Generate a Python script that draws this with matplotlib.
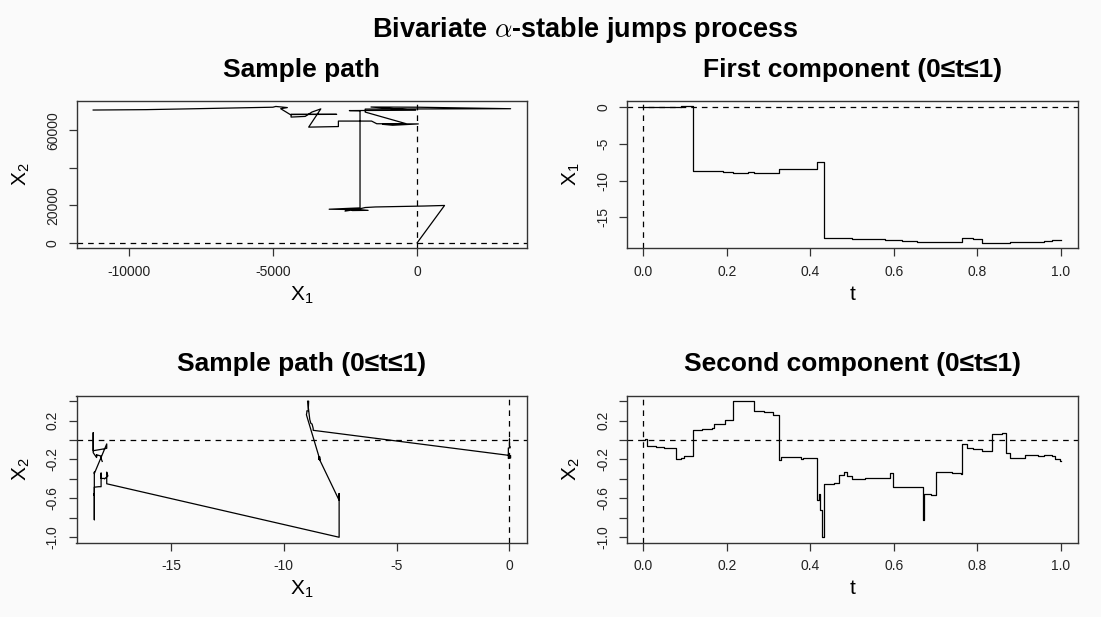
import matplotlib
matplotlib.use("Agg")
import matplotlib.pyplot as plt

plt.rcParams['font.family'] = ['Liberation Sans', 'DejaVu Sans']
plt.rcParams['mathtext.fontset'] = 'custom'
plt.rcParams['mathtext.rm'] = 'Liberation Sans'
plt.rcParams['mathtext.it'] = 'Liberation Sans:italic'
plt.rcParams['axes.unicode_minus'] = False

# long sample path (top left)
path_x1 = [0, 950, 250, -1450, -1800, -2250, -1700, -2400, -2500, -2150, -3050, -2300, -1980,
           -1980, -2350, -50, -1600, 0, 3240, -1800, -1800, -400, -1200, -850, 40, -1400,
           -1580, -2730, -2730, -3760, -3340, -3650, -3880, -4370, -4370, -2790, -4400,
           -4730, -4500, -4900, -5000, -6000, -7000, -8000, -9400, -11230]
path_x2 = [0, 19900, 19600, 19100, 18800, 17200, 17300, 18200, 16900, 17700, 17900, 18400, 18600,
           70300, 70400, 70600, 72300, 72200, 71400, 71200, 69600, 63500, 63100, 62600, 63300, 63400,
           64820, 64820, 61900, 61600, 71300, 69600, 67300, 66950, 68400, 68400, 68300,
           71400, 72000, 72600, 72200, 71900, 71600, 71300, 70900, 70700]

# process on 0 <= t <= 1 (values hold until the next time)
t_vals = [0.000, 0.005, 0.008, 0.030, 0.050, 0.060, 0.077, 0.090, 0.097, 0.118,
          0.140, 0.165, 0.168, 0.190, 0.196, 0.214, 0.250, 0.266, 0.280, 0.290,
          0.310, 0.326, 0.330, 0.360, 0.378, 0.382, 0.417, 0.420, 0.424, 0.427,
          0.433, 0.456, 0.468, 0.480, 0.488, 0.500, 0.530, 0.580, 0.590, 0.597,
          0.620, 0.655, 0.671, 0.673, 0.690, 0.702, 0.740, 0.760, 0.764, 0.775,
          0.790, 0.812, 0.836, 0.860, 0.869, 0.878, 0.915, 0.945, 0.960, 0.980,
          0.985, 0.998, 1.000]
x1_vals = [0.00, 0.00, 0.00, 0.03, 0.03, -0.05, -0.05, 0.05, 0.05, -8.70,
           -8.70, -8.70, -8.75, -8.80, -8.85, -8.95, -8.90, -8.92, -8.98, -8.98,
           -9.00, -8.40, -8.40, -8.45, -8.45, -8.45, -7.55, -7.55, -7.55, -7.55,
           -17.85, -17.85, -17.85, -17.85, -17.80, -17.95, -17.95, -18.10, -18.10, -18.10,
           -18.20, -18.40, -18.40, -18.40, -18.40, -18.40, -18.40, -18.40, -17.85, -17.85,
           -17.95, -18.45, -18.45, -18.45, -18.45, -18.30, -18.30, -18.30, -18.25, -18.10,
           -18.10, -18.05, -18.05]
x2_vals = [0.000, 0.010, -0.065, -0.068, -0.080, -0.082, -0.190, -0.185, -0.160, 0.100,
           0.110, 0.120, 0.165, 0.170, 0.210, 0.400, 0.400, 0.300, 0.300, 0.285,
           0.260, -0.205, -0.175, -0.175, -0.200, -0.185, -0.620, -0.550, -0.720, -1.000,
           -0.450, -0.440, -0.360, -0.330, -0.370, -0.400, -0.395, -0.395, -0.340, -0.480,
           -0.480, -0.485, -0.820, -0.550, -0.570, -0.330, -0.335, -0.345, -0.040, -0.085,
           -0.090, -0.110, 0.060, 0.075, -0.130, -0.180, -0.150, -0.165, -0.155, -0.165,
           -0.190, -0.220, -0.220]

bg = '#fafafa'
edge = '#333333'
W, H = 1101, 617

fig = plt.figure(figsize=(W / 100, H / 100), dpi=100, facecolor=bg)


def box(x0, y0, x1, y1):
    return [x0 / W, 1 - y1 / H, (x1 - x0) / W, (y1 - y0) / H]


def style(ax, title, xlab, ylab):
    ax.set_facecolor(bg)
    for s in ax.spines.values():
        s.set_color(edge)
        s.set_linewidth(1.0)
    ax.margins(0.04)
    ax.axhline(0, color='black', lw=0.9, ls=(0, (4.5, 4)))
    ax.axvline(0, color='black', lw=0.9, ls=(0, (4.5, 4)))
    ax.tick_params(length=6, width=0.9, color=edge, labelsize=10, labelcolor='#222222', pad=6)
    ax.tick_params(axis='y', labelrotation=90)
    for lab in ax.get_yticklabels():
        lab.set_va('center')
    ax.set_title(title, fontsize=19, fontweight='bold', pad=17.5)
    ax.set_xlabel(xlab, fontsize=15, labelpad=4)
    ax.set_ylabel(ylab, fontsize=15, labelpad=10)


ax1 = fig.add_axes(box(76.5, 101, 527.3, 248.3))
ax1.plot(path_x1, path_x2, color='black', lw=0.9)
ax1.set_xticks([-10000, -5000, 0])
ax1.set_yticks([0, 20000, 40000, 60000])
ax1.set_yticklabels(['0', '20000', '', '60000'])
style(ax1, 'Sample path', 'X$_1$', 'X$_2$')

ax2 = fig.add_axes(box(626.7, 101, 1077.5, 248.3))
ax2.plot(t_vals, x1_vals, color='black', lw=0.9, drawstyle='steps-post')
ax2.set_xticks([0, 0.2, 0.4, 0.6, 0.8, 1.0])
ax2.set_xticklabels(['0.0', '0.2', '0.4', '0.6', '0.8', '1.0'])
ax2.set_yticks([0, -5, -10, -15])
style(ax2, 'First component (0≤t≤1)', 't', 'X$_1$')

ax3 = fig.add_axes(box(76.5, 395.7, 527.3, 542.7))
ax3.plot(x1_vals, x2_vals, color='black', lw=0.9)
ax3.set_xticks([-15, -10, -5, 0])
ax3.set_yticks([-1.0, -0.8, -0.6, -0.4, -0.2, 0.0, 0.2, 0.4])
ax3.set_yticklabels(['-1.0', '', '-0.6', '', '-0.2', '', '0.2', ''])
style(ax3, 'Sample path (0≤t≤1)', 'X$_1$', 'X$_2$')

ax4 = fig.add_axes(box(626.7, 395.7, 1077.5, 542.7))
ax4.plot(t_vals, x2_vals, color='black', lw=0.9, drawstyle='steps-post')
ax4.set_xticks([0, 0.2, 0.4, 0.6, 0.8, 1.0])
ax4.set_xticklabels(['0.0', '0.2', '0.4', '0.6', '0.8', '1.0'])
ax4.set_yticks([-1.0, -0.8, -0.6, -0.4, -0.2, 0.0, 0.2, 0.4])
ax4.set_yticklabels(['-1.0', '', '-0.6', '', '-0.2', '', '0.2', ''])
style(ax4, 'Second component (0≤t≤1)', 't', 'X$_2$')

fig.suptitle(r'Bivariate $\alpha$-stable jumps process', fontsize=19.5, fontweight='bold',
             x=585 / W, y=1 - 30 / H, va='center', math_fontfamily='cm')

fig.savefig('out.png', dpi=100, facecolor=bg)
